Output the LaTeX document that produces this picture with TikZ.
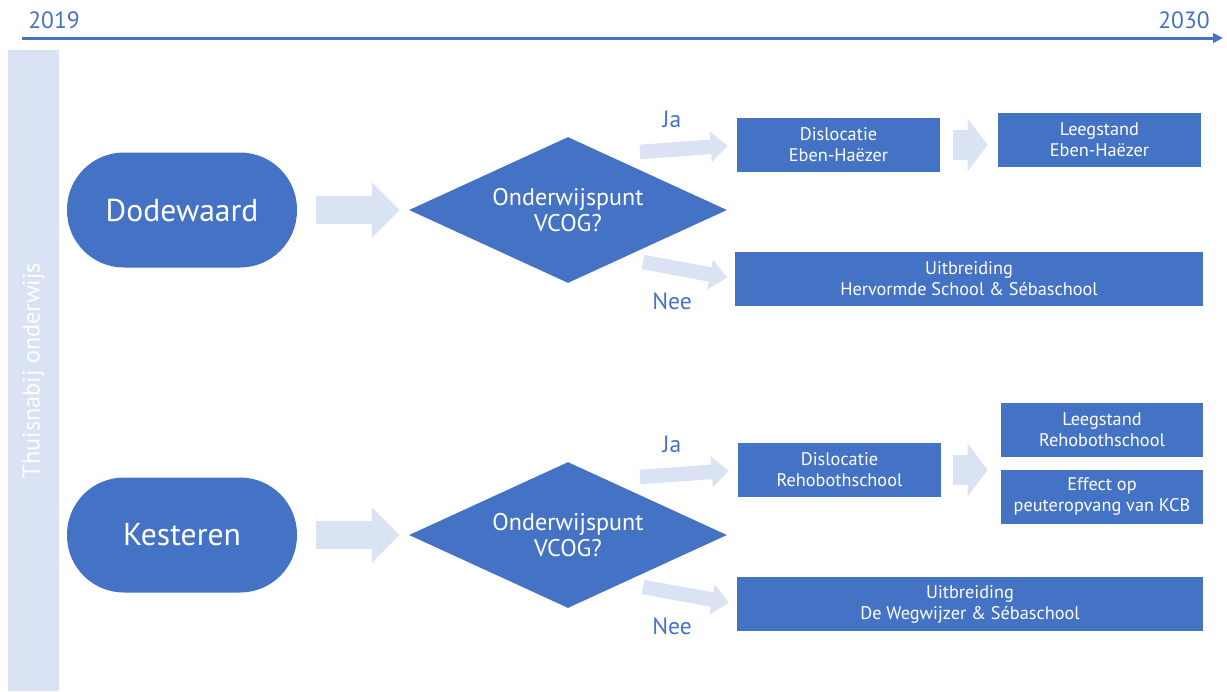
\documentclass[tikz,border=0pt]{standalone}
\usepackage{fontspec}
\setmainfont{PT Sans}
\usetikzlibrary{shapes.geometric,arrows.meta}
\newlength\unitpx
\setlength\unitpx{0.02cm}
\definecolor{vblauw}{HTML}{4472C4}
\definecolor{lblauw}{HTML}{DAE3F3}
\tikzset{
	plaats/.style={rectangle, rounded corners=57\unitpx, fill=vblauw, text=white,
		minimum width=230\unitpx, minimum height=115\unitpx, font=\fontsize{18}{21}\selectfont},
	vraag/.style={diamond, aspect=2.2, inner sep=0pt, fill=vblauw, text=white, align=center,
		minimum width=318\unitpx, minimum height=146\unitpx, font=\fontsize{13.7}{15}\selectfont},
	blok/.style={rectangle, fill=vblauw, text=white, align=center, inner sep=0pt,
		minimum height=54\unitpx, font=\fontsize{10.4}{12}\selectfont},
	keuze/.style={text=vblauw, font=\fontsize{13.4}{15}\selectfont},
	balk/.style={rectangle, rotate=90, fill=lblauw, text=white, minimum width=641\unitpx,
		minimum height=51\unitpx, font=\fontsize{13.8}{15}\selectfont},
	% pijlpunten in pt (1px = 0.569pt)
	dikpijl/.style={draw=lblauw, line width=15.4pt, -{Triangle[length=15.9pt, width=30.7pt]}},
	blokpijl/.style={draw=lblauw, line width=17pt, -{Triangle[length=11.4pt, width=29.6pt]}},
	dunpijl/.style={draw=lblauw, line width=8.3pt, -{Triangle[length=9.7pt, width=17.1pt]}},
	tijdlijn/.style={draw=vblauw, line width=1.7pt, -{Triangle[length=5.7pt, width=5.4pt]}}
}

\begin{document}
\begin{tikzpicture}[x=0.02cm, y=-0.02cm]
	\useasboundingbox (0,0) rectangle (1227,691);
	
	% tijdlijn
	\coordinate (t0) at (22,38);
	\coordinate (t1) at (1223,38);
	\draw[tijdlijn] (t0) -- (t1);
	\node[keuze] (begin) at (54,20) {2019};
	\node[keuze] (eind) at (1184,20) {2030};
	
	\node[balk] (balk) at (33.5,370.5) {Thuisnabij onderwijs};
	
	% uitkomsten
	\node[blok, minimum width=203\unitpx] (disl1) at (838.5,145) {Dislocatie\\Eben-Haëzer};
	\node[blok, minimum width=203\unitpx] (leeg1) at (1099.5,139.5) {Leegstand\\Eben-Haëzer};
	\node[blok, minimum width=468\unitpx] (uitb1) at (969,279) {Uitbreiding\\Hervormde School \& Sébaschool};
	
	\node[blok, minimum width=203\unitpx] (disl2) at (839.5,470) {Dislocatie\\Rehobothschool};
	\node[blok, minimum width=202\unitpx] (leeg2) at (1102,429.5) {Leegstand\\Rehobothschool};
	\node[blok, minimum width=202\unitpx] (effect) at (1102,496.5) {Effect op\\peuteropvang van KCB};
	\node[blok, minimum width=466\unitpx] (uitb2) at (970,604) {Uitbreiding\\De Wegwijzer \& Sébaschool};
	
	\foreach \i/\naam/\y in {1/Dodewaard/210, 2/Kesteren/535}{
		\node[plaats] (plaats\i) at (182,\y) {\naam};
		\node[vraag] (vraag\i) at (568,\y) {Onderwijspunt\\VCOG?};
		\node[keuze] (ja\i) at (672,\y-91) {Ja};
		\node[keuze] (nee\i) at (672,\y+91) {Nee};
		\coordinate (jastart\i) at (640,\y-58);
		\coordinate (neestart\i) at (643,\y+52);
		
		\draw[dikpijl, shorten <=10.8pt, shorten >=5.1pt] (plaats\i) -- (vraag\i);
		\draw[dunpijl, shorten >=5.1pt] (jastart\i) -- (disl\i.west);
		\draw[dunpijl, shorten >=4.5pt] (neestart\i) -- (uitb\i.west);
	}
	
	\draw[blokpijl, shorten <=7.4pt, shorten >=5.7pt] (disl1.east) -- (disl1.east -| leeg1.west);
	\draw[blokpijl, shorten <=6.8pt, shorten >=7.4pt] (disl2.east) -- (disl2.east -| leeg2.west);
\end{tikzpicture}
\end{document}
